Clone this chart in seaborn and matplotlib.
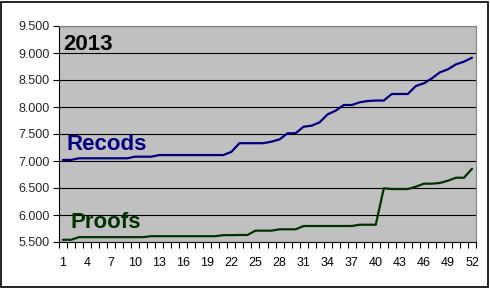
import matplotlib
matplotlib.use("Agg")
import matplotlib.pyplot as plt
import matplotlib.ticker as mticker
from matplotlib.patches import Rectangle
import seaborn as sns
import pandas as pd
import numpy as np

weeks = list(range(1, 53))
recods = [7020, 7020, 7050, 7050, 7050, 7050, 7050, 7050, 7050, 7080,
          7080, 7080, 7110, 7110, 7110, 7110, 7110, 7110, 7110, 7110,
          7110, 7170, 7330, 7330, 7330, 7330, 7358, 7400, 7513, 7513,
          7635, 7654, 7716, 7864, 7932, 8037, 8037, 8087, 8111, 8120,
          8120, 8241, 8241, 8241, 8389, 8439, 8531, 8642, 8698, 8790,
          8839, 8913]
proofs = [5541, 5541, 5590, 5590, 5590, 5590, 5590, 5590, 5590, 5590,
          5590, 5608, 5608, 5608, 5608, 5608, 5608, 5608, 5608, 5608,
          5627, 5627, 5630, 5630, 5710, 5710, 5710, 5735, 5735, 5735,
          5796, 5796, 5796, 5796, 5796, 5796, 5796, 5820, 5820, 5820,
          6494, 6481, 6481, 6481, 6524, 6580, 6580, 6593, 6635, 6690,
          6690, 6857]
series_labels = ["Recods", "Proofs"]
title_text = "2013"

df = pd.DataFrame({"week": weeks * 2,
                   "value": recods + proofs,
                   "series": [series_labels[0]] * 52 + [series_labels[1]] * 52})

sns.set_style("white")
plt.rcParams['font.family'] = ['Liberation Sans', 'DejaVu Sans']

fig = plt.figure(figsize=(4.9, 2.88), dpi=100)
ax = fig.add_axes([59/490, 1-242/288, 417/490, 216/288])
ax.set_facecolor("#C0C0C0")

colors = {"Recods": "#000080", "Proofs": "#003300"}
sns.lineplot(data=df, x="week", y="value", hue="series", palette=colors,
             ax=ax, linewidth=1.6, legend=False, zorder=3)

ax.set_xlim(0.5, 52.5)
ax.set_ylim(5500, 9500)
ax.yaxis.set_major_locator(mticker.MultipleLocator(500))
ax.yaxis.set_major_formatter(mticker.FuncFormatter(lambda v, p: f"{v:,.0f}".replace(",", ".")))
ax.set_xticks(list(range(1, 53, 3)))
ax.set_xticks([k + 0.5 for k in range(0, 53)], minor=True)
ax.tick_params(axis='x', which='major', length=0, pad=11, labelsize=9, colors='black')
ax.tick_params(axis='x', which='minor', length=4, width=0.8, direction='out', color='black', bottom=True)
ax.tick_params(axis='y', which='major', length=4, width=0.8, direction='out', pad=3, labelsize=9, color='black', left=True)
ax.set_xlabel("")
ax.set_ylabel("")

ax.grid(axis='y', color='black', linewidth=0.8, zorder=1)
ax.set_axisbelow(True)
for s in ["left", "bottom"]:
    ax.spines[s].set_color("black")
    ax.spines[s].set_linewidth(0.8)
for s in ["top", "right"]:
    ax.spines[s].set_color("#808080")
    ax.spines[s].set_linewidth(0.8)

ax.text(0.0096, 0.891, title_text, transform=ax.transAxes, fontsize=16,
        fontweight='bold', color='black', va='baseline', ha='left')
ax.text(0.0168, 0.426, series_labels[0], transform=ax.transAxes, fontsize=16,
        fontweight='bold', color=colors["Recods"], va='baseline', ha='left')
ax.text(0.0276, 0.065, series_labels[1], transform=ax.transAxes, fontsize=16,
        fontweight='bold', color=colors["Proofs"], va='baseline', ha='left')

fig.patches.append(Rectangle((1/490, 1/288), 487/490, 285/288, transform=fig.transFigure,
                             fill=False, edgecolor='black', linewidth=1.2))

fig.savefig("out.png", dpi=100)
